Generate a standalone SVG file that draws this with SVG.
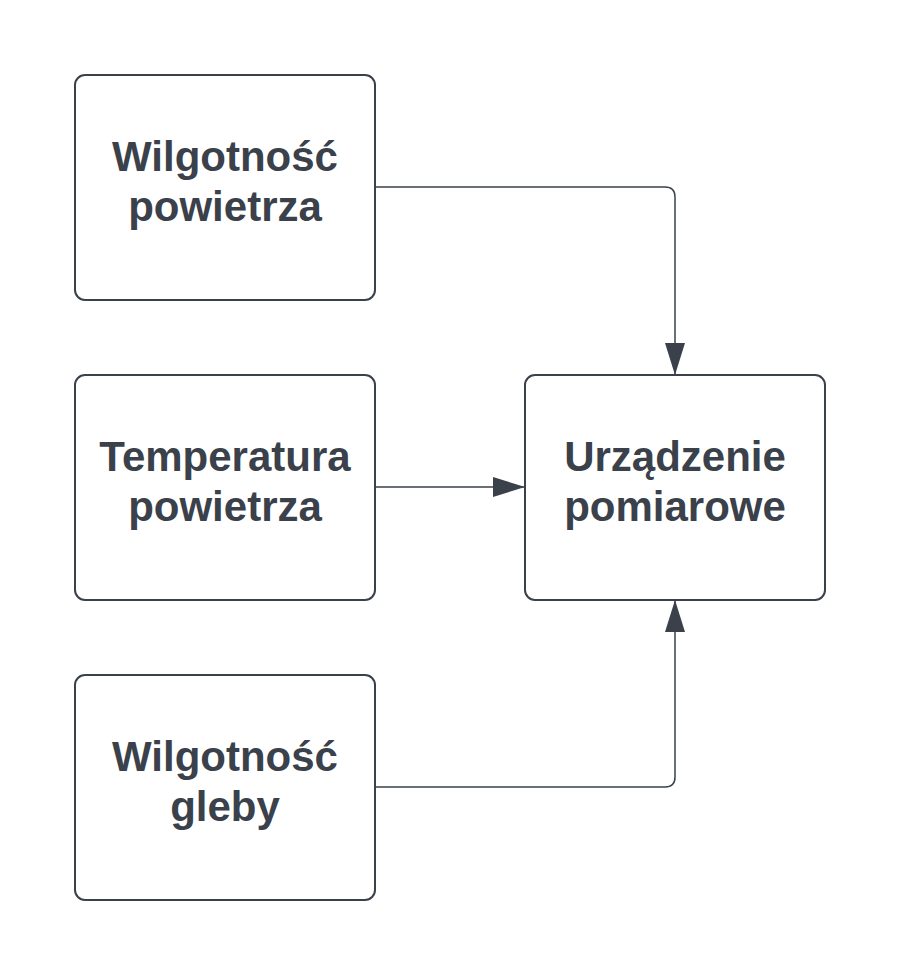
<svg xmlns="http://www.w3.org/2000/svg" width="900" height="975" viewBox="0 0 900 975">
<style>
.box{fill:#ffffff;stroke:#3a414a;stroke-width:2}
.lbl{font-family:"Liberation Sans",Arial,sans-serif;font-weight:bold;font-size:42px;fill:#3a414a;text-anchor:middle}
.con{fill:none;stroke:#3a414a;stroke-width:1.5}
</style>
<defs>
<marker id="arr" viewBox="0 0 32 20" refX="31" refY="10" markerWidth="32" markerHeight="20" markerUnits="userSpaceOnUse" orient="auto">
<path d="M0,0 L32,10 L0,20 Z" fill="#3a414a"/>
</marker>
</defs>
<rect width="900" height="975" fill="#ffffff"/>
<g id="connectors">
<path class="con" d="M375,187 H665 Q675,187 675,197 V374" marker-end="url(#arr)"/>
<path class="con" d="M375,487 H524" marker-end="url(#arr)"/>
<path class="con" d="M375,787 H665 Q675,787 675,777 V601" marker-end="url(#arr)"/>
</g>
<g id="node-wilgotnosc-powietrza">
<rect class="box" x="75" y="75" width="300" height="225" rx="10"/>
<text class="lbl" x="225" y="171">Wilgotność</text>
<text class="lbl" x="225" y="221">powietrza</text>
</g>
<g id="node-temperatura-powietrza">
<rect class="box" x="75" y="375" width="300" height="225" rx="10"/>
<text class="lbl" x="225" y="471">Temperatura</text>
<text class="lbl" x="225" y="521">powietrza</text>
</g>
<g id="node-wilgotnosc-gleby">
<rect class="box" x="75" y="675" width="300" height="225" rx="10"/>
<text class="lbl" x="225" y="771">Wilgotność</text>
<text class="lbl" x="225" y="821">gleby</text>
</g>
<g id="node-urzadzenie">
<rect class="box" x="525" y="375" width="300" height="225" rx="10"/>
<text class="lbl" x="675" y="471">Urządzenie</text>
<text class="lbl" x="675" y="521">pomiarowe</text>
</g>
</svg>
